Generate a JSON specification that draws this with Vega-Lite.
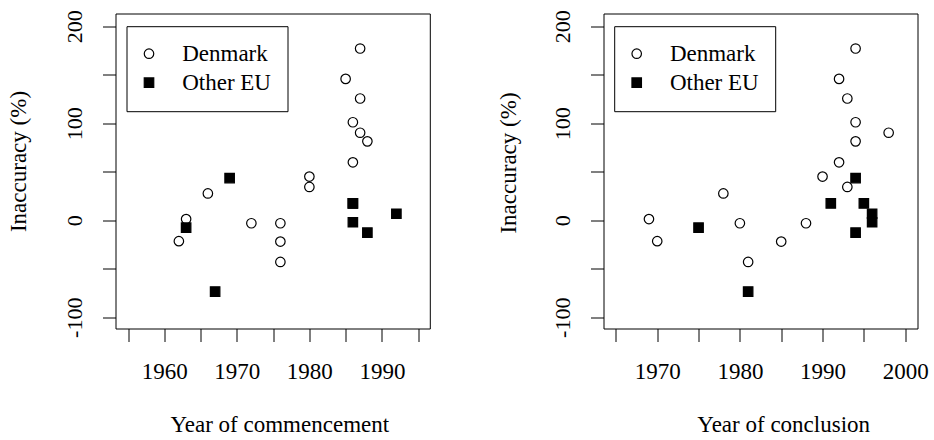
{
  "$schema": "https://vega.github.io/schema/vega-lite/v6.json",
  "padding": {"left": 6.5, "top": 8.5, "right": 0, "bottom": 0},
  "background": "white",
  "data": {"values": [
    {"group": "Denmark", "start": 1987, "end": 1994, "inaccuracy": 177},
    {"group": "Denmark", "start": 1985, "end": 1992, "inaccuracy": 145.7},
    {"group": "Denmark", "start": 1987, "end": 1993, "inaccuracy": 125.5},
    {"group": "Denmark", "start": 1986, "end": 1994, "inaccuracy": 101},
    {"group": "Denmark", "start": 1987, "end": 1998, "inaccuracy": 90.2},
    {"group": "Denmark", "start": 1988, "end": 1994, "inaccuracy": 81.3},
    {"group": "Denmark", "start": 1986, "end": 1992, "inaccuracy": 59.7},
    {"group": "Denmark", "start": 1980, "end": 1990, "inaccuracy": 45},
    {"group": "Denmark", "start": 1980, "end": 1993, "inaccuracy": 34.3},
    {"group": "Denmark", "start": 1966, "end": 1978, "inaccuracy": 27.6},
    {"group": "Denmark", "start": 1963, "end": 1969, "inaccuracy": 1.2},
    {"group": "Denmark", "start": 1962, "end": 1970, "inaccuracy": -21.6},
    {"group": "Denmark", "start": 1972, "end": 1980, "inaccuracy": -3.1},
    {"group": "Denmark", "start": 1976, "end": 1988, "inaccuracy": -3.1},
    {"group": "Denmark", "start": 1976, "end": 1985, "inaccuracy": -22},
    {"group": "Denmark", "start": 1976, "end": 1981, "inaccuracy": -43},
    {"group": "Other EU", "start": 1969, "end": 1994, "inaccuracy": 43.5},
    {"group": "Other EU", "start": 1963, "end": 1975, "inaccuracy": -7.7},
    {"group": "Other EU", "start": 1967, "end": 1981, "inaccuracy": -73.5},
    {"group": "Other EU", "start": 1986, "end": 1991, "inaccuracy": 17.3},
    {"group": "Other EU", "start": 1986, "end": 1995, "inaccuracy": 17.3},
    {"group": "Other EU", "start": 1986, "end": 1996, "inaccuracy": -2.1},
    {"group": "Other EU", "start": 1988, "end": 1994, "inaccuracy": -12.8},
    {"group": "Other EU", "start": 1992, "end": 1996, "inaccuracy": 6.7}
  ]},
  "spacing": 66,
  "hconcat": [
    {
      "width": 314.3,
      "height": 315,
      "mark": {"type": "point", "size": 90, "strokeWidth": 1.2, "opacity": 1},
      "encoding": {
        "x": {"field": "start", "type": "quantitative",
          "scale": {"domain": [1953.26, 1996.61], "nice": false, "zero": false},
          "axis": {"title": "Year of commencement", "values": [1955, 1960, 1965, 1970, 1975, 1980, 1985, 1990, 1995],
            "labelExpr": "datum.value % 10 === 0 ? '' + datum.value : ''",
            "titleX": 163.8, "titleY": 102.5}},
        "y": {"field": "inaccuracy", "type": "quantitative",
          "scale": {"domain": [-111.6, 213.1], "nice": false, "zero": false},
          "axis": {"title": "Inaccuracy (%)", "values": [-100, -50, 0, 50, 100, 150, 200],
            "labelExpr": "datum.value % 100 === 0 ? '' + datum.value : ''",
            "titleX": -89.7, "titleY": 147.5}},
        "shape": {"field": "group", "type": "nominal",
          "scale": {"domain": ["Denmark", "Other EU"], "range": ["circle", "square"]},
          "legend": {"orient": "none", "legendX": 11, "legendY": 12.7}},
        "fill": {"field": "group", "type": "nominal",
          "scale": {"domain": ["Denmark", "Other EU"], "range": ["transparent", "black"]},
          "legend": {"orient": "none", "legendX": 11, "legendY": 12.7}},
        "stroke": {"field": "group", "type": "nominal",
          "scale": {"domain": ["Denmark", "Other EU"], "range": ["black", "black"]},
          "legend": {"orient": "none", "legendX": 11, "legendY": 12.7}}
      }
    },
    {
      "width": 314,
      "height": 315,
      "mark": {"type": "point", "size": 90, "strokeWidth": 1.2, "opacity": 1},
      "encoding": {
        "x": {"field": "end", "type": "quantitative",
          "scale": {"domain": [1963.5, 2001.49], "nice": false, "zero": false},
          "axis": {"title": "Year of conclusion", "values": [1965, 1970, 1975, 1980, 1985, 1990, 1995, 2000],
            "labelExpr": "datum.value % 10 === 0 ? '' + datum.value : ''",
            "titleX": 179.7, "titleY": 102.5}},
        "y": {"field": "inaccuracy", "type": "quantitative",
          "scale": {"domain": [-111.6, 213.1], "nice": false, "zero": false},
          "axis": {"title": "Inaccuracy (%)", "values": [-100, -50, 0, 50, 100, 150, 200],
            "labelExpr": "datum.value % 100 === 0 ? '' + datum.value : ''",
            "titleX": -88.3, "titleY": 149}},
        "shape": {"field": "group", "type": "nominal",
          "scale": {"domain": ["Denmark", "Other EU"], "range": ["circle", "square"]},
          "legend": {"orient": "none", "legendX": 10.7, "legendY": 12.7}},
        "fill": {"field": "group", "type": "nominal",
          "scale": {"domain": ["Denmark", "Other EU"], "range": ["transparent", "black"]},
          "legend": {"orient": "none", "legendX": 10.7, "legendY": 12.7}},
        "stroke": {"field": "group", "type": "nominal",
          "scale": {"domain": ["Denmark", "Other EU"], "range": ["black", "black"]},
          "legend": {"orient": "none", "legendX": 10.7, "legendY": 12.7}}
      }
    }
  ],
  "resolve": {"scale": {"shape": "independent", "fill": "independent", "stroke": "independent", "x": "independent", "y": "independent"}},
  "config": {
    "view": {"stroke": "black", "strokeWidth": 1},
    "font": "Liberation Serif",
    "axis": {
      "domain": false, "grid": false,
      "tickColor": "black", "tickSize": 13, "tickWidth": 1,
      "labelColor": "black", "titleColor": "black",
      "labelFont": "Liberation Serif", "titleFont": "Liberation Serif",
      "labelFontSize": 23, "titleFontSize": 23, "titleFontWeight": "normal",
      "labelOverlap": false, "labelFlush": false
    },
    "axisX": {"labelBaseline": "alphabetic", "labelPadding": 37, "titleBaseline": "alphabetic", "titleAlign": "center"},
    "axisY": {"labelAngle": -90, "labelAlign": "center", "labelBaseline": "alphabetic", "labelPadding": 21, "labelFontSize": 22,
      "titleAngle": -90, "titleBaseline": "alphabetic", "titleAlign": "center"},
    "legend": {
      "title": null, "strokeColor": "black", "fillColor": "white", "padding": 16,
      "labelFont": "Liberation Serif", "labelFontSize": 23, "labelColor": "black",
      "rowPadding": 5, "labelOffset": 21.7, "symbolOffset": -5, "symbolSize": 90,
      "symbolStrokeWidth": 1.2, "cornerRadius": 0, "labelLimit": 300
    }
  }
}
